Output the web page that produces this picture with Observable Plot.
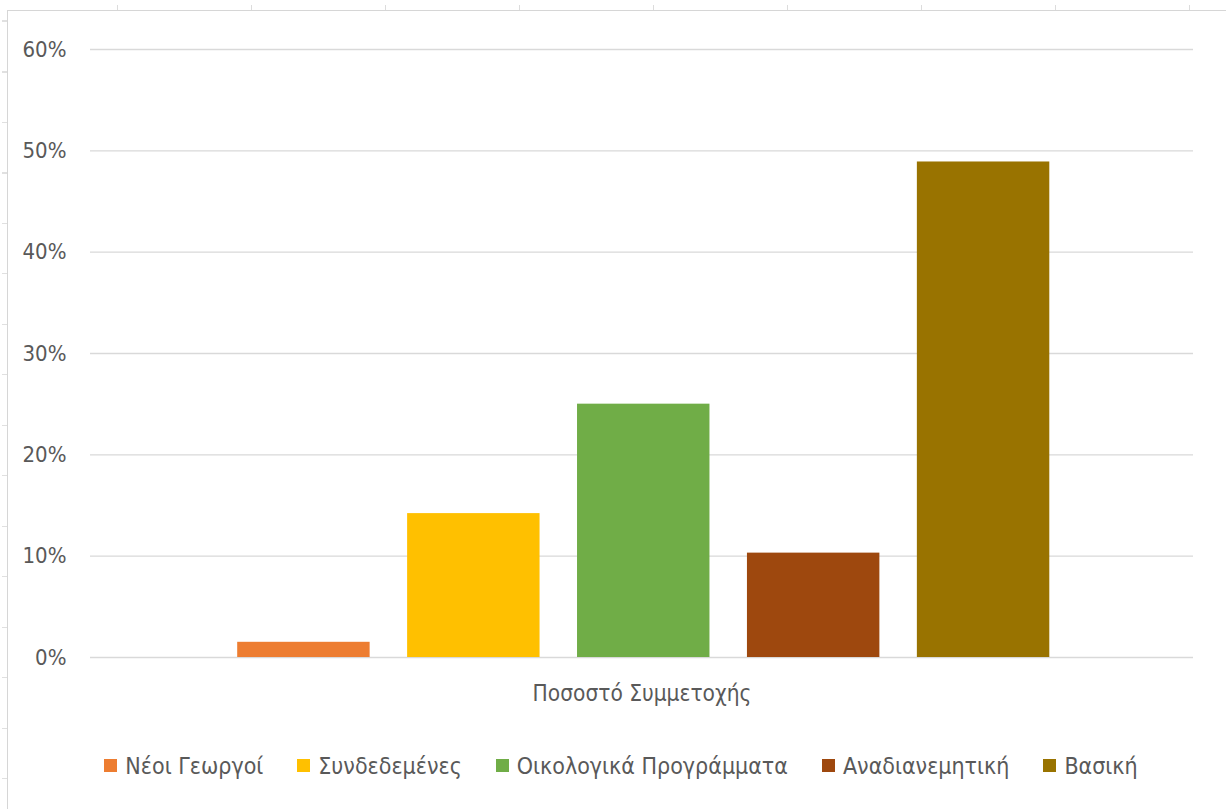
<!DOCTYPE html>
<html>
<head>
<meta charset="utf-8">
<script src="https://cdn.jsdelivr.net/npm/d3@7"></script>
<script src="https://cdn.jsdelivr.net/npm/@observablehq/plot@0.6"></script>
<style>
  html, body { margin: 0; padding: 0; background: #fff; }
  body { width: 1226px; height: 809px; position: relative; overflow: hidden;
         font-family: "Liberation Sans Narrow", "DejaVu Sans Condensed", "Roboto Condensed", "Liberation Sans", sans-serif; }
  .frame-top { position: absolute; top: 10px; left: 7px; right: 0; border-top: 1px solid #d6d6d6; }
  .frame-left { position: absolute; top: 10px; left: 7px; bottom: 0; border-left: 1px solid #d6d6d6; }
  .ticks-top { position: absolute; top: 5px; left: 110px; width: 1116px; height: 5px;
               background: repeating-linear-gradient(90deg, #dcdcdc 0 1px, transparent 1px 134px);
               background-position: 7px 0; }
  .ticks-left { position: absolute; top: 0; left: 2px; width: 5px; height: 809px;
                background: repeating-linear-gradient(180deg, #e0e0e0 0 1px, transparent 1px 50.5px);
                background-position: 0 21px; }
  #chart { position: absolute; top: 0; left: 0; }
  #legend { position: absolute; top: 749px; left: 8px; width: 1226px; display: flex; justify-content: center; }
  .lg-swatches { margin: 0 !important; }
  .lg-swatch { margin-right: 34px !important; color: #595959; font-size: 23px !important; }
  .lg-swatch:last-child { margin-right: 0 !important; }
  .lg-swatch svg { margin-right: 8px !important; }
</style>
</head>
<body>
<div class="ticks-top"></div>
<div class="ticks-left"></div>
<div class="frame-top"></div>
<div class="frame-left"></div>
<div id="chart"></div>
<div id="legend"></div>
<script>
const categories = ["Ποσοστό Συμμετοχής"];
const series = ["Νέοι Γεωργοί", "Συνδεδεμένες", "Οικολογικά Προγράμματα", "Αναδιανεμητική", "Βασική"];
const values = [0.015, 0.142, 0.250, 0.103, 0.489];
const colors = ["#ED7D31", "#FFC000", "#70AD47", "#9E480E", "#997300"];
const yTicks = [0, 0.1, 0.2, 0.3, 0.4, 0.5, 0.6];

const data = series.map((s, i) => ({cat: categories[0], series: s, value: values[i]}));
const fontFamily = getComputedStyle(document.body).fontFamily;

const chart = Plot.plot({
  width: 1226,
  height: 720,
  marginTop: 49,
  marginBottom: 63,
  marginLeft: 90,
  marginRight: 33,
  style: {fontFamily, color: "#595959", background: "transparent"},
  fx: {domain: categories, padding: 0, axis: null, round: false},
  x: {domain: series, paddingInner: 0.2206, paddingOuter: 0.856, align: 0.506, axis: null, round: false},
  y: {domain: [0, 0.6], axis: null},
  color: {domain: series, range: colors},
  marks: [
    Plot.gridY(yTicks, {stroke: "#d9d9d9", strokeOpacity: 1, strokeWidth: 1.3}),
    Plot.axisY(yTicks, {tickSize: 0, tickPadding: 24, tickFormat: d3.format(".0%"), fontSize: 22, label: null, fill: "#595959"}),
    Plot.barY(data, {fx: "cat", x: "series", y: "value", fill: "series"}),
    Plot.axisFx({anchor: "bottom", tickSize: 0, tickPadding: 28, fontSize: 22.5, label: null, fill: "#595959"})
  ]
});
document.getElementById("chart").appendChild(chart);

const legend = Plot.legend({
  color: {domain: series, range: colors},
  legend: "swatches",
  swatchSize: 13,
  className: "lg",
  style: {fontFamily, fontSize: "23px", color: "#595959"}
});
document.getElementById("legend").appendChild(legend);
</script>
</body>
</html>
